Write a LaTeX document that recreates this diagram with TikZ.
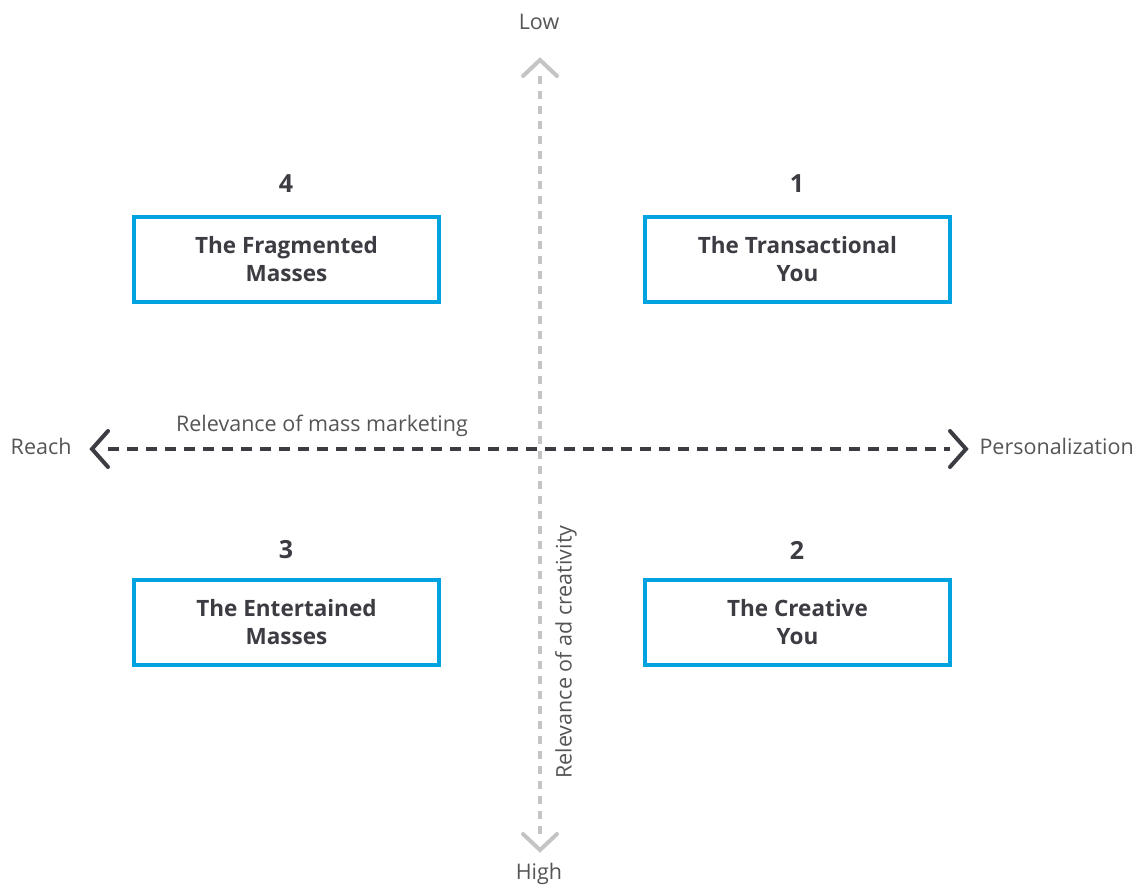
\documentclass[tikz,border=0pt]{standalone}
\usepackage{fontspec}
\setmainfont{Open Sans}
\usetikzlibrary{arrows.meta}
\definecolor{boxblue}{HTML}{00A3E0}
\definecolor{darktxt}{HTML}{3C3C43}
\definecolor{axisgray}{HTML}{C4C4C4}
\definecolor{labelgray}{HTML}{555555}
\begin{document}
\begin{tikzpicture}[x=1pt,y=-1pt,
  quad/.style={draw=boxblue,line width=4pt,minimum width=305pt,minimum height=85pt,
    align=center,font=\bfseries\fontsize{22.5}{28}\selectfont,text=darktxt},
  qnum/.style={font=\bfseries\fontsize{25}{28}\selectfont,text=darktxt},
  lbl/.style={font=\fontsize{21.5}{25}\selectfont,text=labelgray},
  vaxis/.style={axisgray,line width=4pt,dash pattern=on 8pt off 7pt},
  haxis/.style={darktxt,line width=3.5pt,dash pattern=on 11pt off 8pt},
  chev/.style={line width=4pt,line cap=round,line join=miter}]
\useasboundingbox (0,0) rectangle (1141,886);
% coordinates
\coordinate (vtop) at (540,60);
\coordinate (vbot) at (540,850);
\coordinate (hleft) at (92,449);
\coordinate (hright) at (966,449);
% axes
\draw[vaxis] (540,76) -- (540,834);
\draw[haxis] (108,449) -- (950,449);
\draw[chev,axisgray] (523,76) -- (vtop) -- (557,76);
\draw[chev,axisgray] (523,834) -- (vbot) -- (557,834);
\draw[chev,darktxt] (108,431) -- (hleft) -- (108,467);
\draw[chev,darktxt] (950,431) -- (hright) -- (950,467);
% axis labels
\node[lbl] (low) at (539,22) {Low};
\node[lbl] (high) at (539,874) {High};
\node[lbl,anchor=east] (reach) at (75,446) {Reach};
\node[lbl,anchor=west] (pers) at (976,446) {Personalization};
\node[lbl] (mass) at (322,426) {Relevance of mass marketing};
\node[lbl,rotate=90] (adc) at (566,652) {Relevance of ad creativity};
% boxes
\node[quad] (q4) at (286.5,259.5) {The Fragmented\\Masses};
\node[quad] (q1) at (797.5,259.5) {The Transactional\\You};
\node[quad] (q3) at (286.5,622.5) {The Entertained\\Masses};
\node[quad] (q2) at (797.5,622.5) {The Creative\\You};
\node[qnum] (n4) at (286,184) {4};
\node[qnum] (n1) at (797,184) {1};
\node[qnum] (n3) at (286,550) {3};
\node[qnum] (n2) at (797,550) {2};
\end{tikzpicture}
\end{document}
